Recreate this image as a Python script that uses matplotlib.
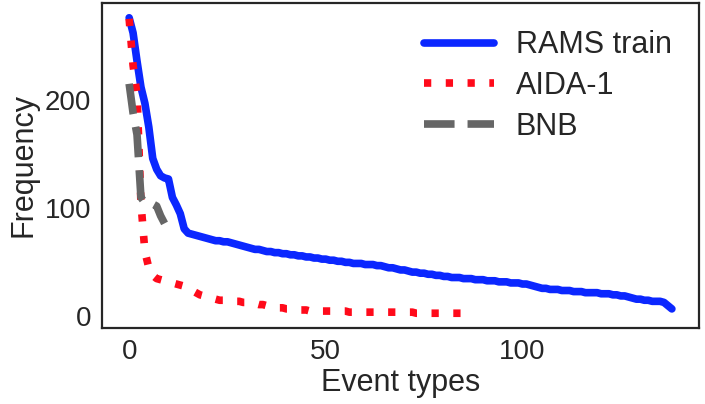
import matplotlib
matplotlib.use("Agg")
import matplotlib.pyplot as plt

# frequencies per event type, sorted descending
rams_train = [276, 262, 236, 212, 197, 175, 146, 136, 130, 128, 127, 110, 103, 95, 81, 77, 76, 75,
              74, 73, 72, 71, 70, 70, 69, 69, 68, 67, 66, 65,
              64, 63, 62, 62, 61, 60, 60, 59, 59, 58, 58, 57,
              57, 56, 56, 55, 55, 54, 54, 53, 53, 52, 52, 51,
              51, 50, 50, 49, 49, 49, 48, 48, 48, 47, 47, 46,
              45, 45, 44, 43, 43, 42, 41, 41, 40, 40, 39, 39,
              38, 38, 37, 37, 36, 36, 36, 35, 35, 35, 34, 34,
              34, 33, 33, 33, 32, 32, 32, 31, 31, 31, 30, 30,
              29, 28, 27, 26, 26, 25, 25, 25, 24, 24, 24, 23,
              23, 23, 22, 22, 22, 22, 21, 21, 21, 20, 20, 19,
              19, 18, 17, 16, 16, 15, 15, 14, 14, 14, 13, 10, 7]

aida_1 = [275, 232, 205, 105, 60, 45, 38, 35, 34, 33, 32, 31, 30, 29, 28, 26, 24, 22, 20, 19,
          18, 17, 16, 15, 15, 15, 14, 14, 14, 13, 13, 12, 12, 11, 11, 10, 9, 9, 8, 8,
          7, 7, 7, 6, 6, 6, 5, 5, 5, 5, 5, 5, 5, 5, 5, 5, 4, 4, 4, 4,
          4, 4, 4, 4, 4, 4, 4, 4, 4, 4, 4, 4, 4, 3, 3, 3, 3, 3, 3, 3,
          3, 3, 3, 3, 3, 3, 3, 3]

bnb = [215, 188, 168, 110, 105, 104, 104, 102, 93, 86]

plt.rcParams['font.family'] = ['Liberation Sans', 'DejaVu Sans']
plt.rcParams['text.color'] = '#262626'
plt.rcParams['axes.labelcolor'] = '#262626'
plt.rcParams['xtick.color'] = '#262626'
plt.rcParams['ytick.color'] = '#262626'

fig = plt.figure(figsize=(7.05, 4.04), dpi=100)
ax = fig.add_axes([0.1447, 0.1881, 0.8468, 0.8045])

ax.plot(range(len(rams_train)), rams_train, color='#0b27ff', lw=5.5,
        solid_capstyle='round', label='RAMS train')
ax.plot(range(len(aida_1)), aida_1, color='#ff0a1a', lw=5.5,
        dashes=(0.95, 1.9), label='AIDA-1')
ax.plot(range(len(bnb)), bnb, color='#666666', lw=5.5,
        dashes=(4.0, 1.7), label='BNB')

ax.set_xticks([0, 50, 100])
ax.set_yticks([0, 100, 200])
ax.tick_params(length=0, labelsize=20, pad=8)
ax.set_xlabel('Event types', fontsize=22, labelpad=2)
ax.set_ylabel('Frequency', fontsize=22, labelpad=4)
for s in ax.spines.values():
    s.set_color('#262626')
    s.set_linewidth(1.6)

ax.legend(frameon=False, fontsize=22, loc='upper right', handlelength=2.3,
          handletextpad=0.7, labelspacing=0.35)

plt.savefig('out.png', dpi=100)
